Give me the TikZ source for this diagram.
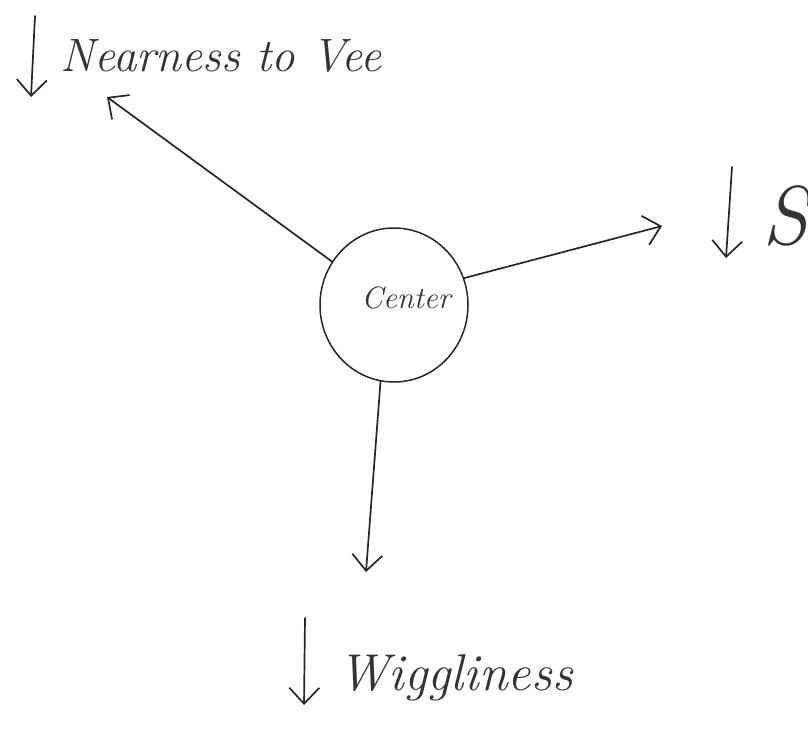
\documentclass[tikz,border=0pt]{standalone}
\usetikzlibrary{arrows.meta,shapes.geometric}
\begin{document}
\begin{tikzpicture}[x=1bp,y=-1bp,
  ink/.style={draw=black!85, line width=1.7bp, line cap=round, line join=round},
  pointer/.style={ink, -{Straight Barb[length=16bp,width=30bp,line width=1.7bp]}},
  hand/.style={font=\itshape, text=black!80, inner sep=0pt, anchor=base west}]
  \useasboundingbox (0,0) rectangle (808,742);

  % central circle
  \node[ink, line width=1.5bp, ellipse, minimum width=148bp, minimum height=154bp,
        inner sep=0pt] (ctr) at (394,305) {};
  \node[hand, anchor=center, font=\itshape\fontsize{31}{31}\selectfont] (ctrlabel) at (406,298) {Center};

  % arrow end points
  \coordinate (tipA) at (107,97);
  \coordinate (tipB) at (662,226);
  \coordinate (tipC) at (366,572);

  \draw[pointer] (ctr.145) -- (tipA);
  \draw[pointer] (ctr.21) -- (tipB);
  \draw[pointer] (ctr.-100) -- (tipC);

  % label: nearness
  \coordinate (dnA1) at (35,16);
  \coordinate (dnA2) at (31,97);
  \draw[pointer] (dnA1) -- (dnA2);
  \node[hand, font=\itshape\fontsize{47}{47}\selectfont] (nearlbl) at (60,72) {Nearness to Vee};

  % label: right side, running off the edge
  \coordinate (dnB1) at (732,167);
  \coordinate (dnB2) at (726,258);
  \draw[pointer] (dnB1) -- (dnB2);
  \begin{scope}
    \clip (0,0) rectangle (808,742);
    \node[hand, font=\itshape\fontsize{84}{84}\selectfont] (smlbl) at (762,244) {S};
  \end{scope}

  % label: wiggliness
  \coordinate (dnC1) at (305,618);
  \coordinate (dnC2) at (304,705);
  \draw[pointer] (dnC1) -- (dnC2);
  \node[hand, font=\itshape\fontsize{52}{52}\selectfont] (wiglbl) at (338,690) {Wiggliness};
\end{tikzpicture}
\end{document}
